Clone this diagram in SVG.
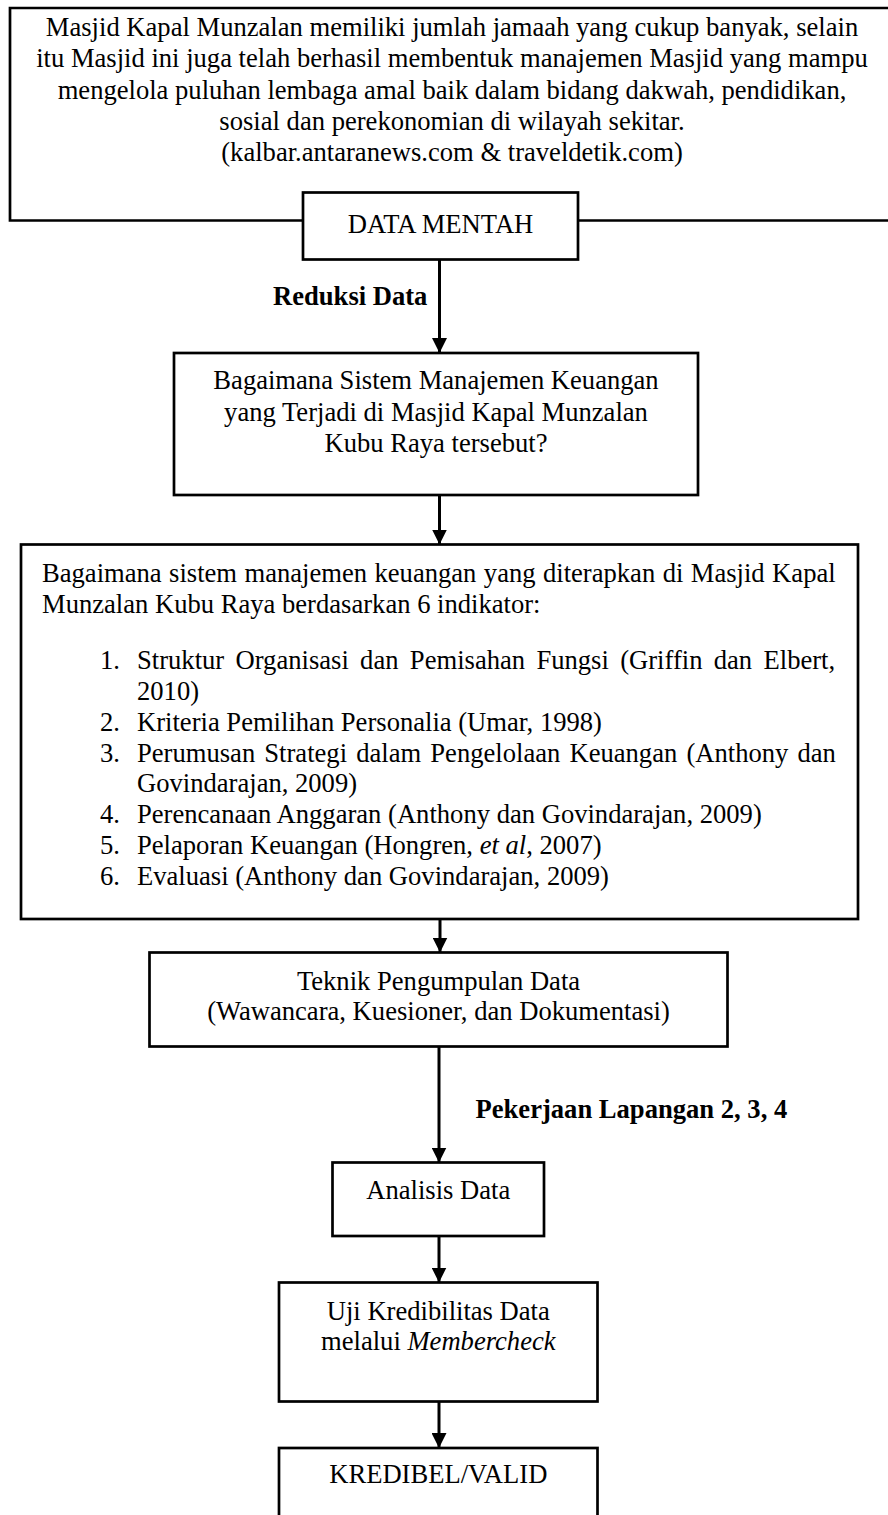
<svg xmlns="http://www.w3.org/2000/svg" width="888" height="1515" viewBox="0 0 888 1515">
<defs>
<style>
.t{font-family:"Liberation Serif","Times New Roman",serif;font-size:26.6px;fill:#000}
.c{text-anchor:middle}
.b{font-weight:bold}
.box{fill:#fff;stroke:#000;stroke-width:2.7}
.ln{fill:none;stroke:#000;stroke-width:2.7}
.ar{fill:none;stroke:#000;stroke-width:3}
</style>
<marker id="ah" markerUnits="userSpaceOnUse" markerWidth="16" markerHeight="15" refX="15" refY="7.5" orient="auto">
<path d="M0,0 L15,7.5 L0,15 z" fill="#000"/>
</marker>
</defs>
<rect width="888" height="1515" fill="#fff"/>

<g id="n-top">
<path class="ln" d="M900,8 H10 V220.5 H900"/>
<text class="t c" x="452" y="36">Masjid Kapal Munzalan memiliki jumlah jamaah yang cukup banyak, selain</text>
<text class="t c" x="452" y="67.2">itu Masjid ini juga telah berhasil membentuk manajemen Masjid yang mampu</text>
<text class="t c" x="452" y="98.5">mengelola puluhan lembaga amal baik dalam bidang dakwah, pendidikan,</text>
<text class="t c" x="452" y="129.8">sosial dan perekonomian di wilayah sekitar.</text>
<text class="t c" x="452" y="161">(kalbar.antaranews.com &amp; traveldetik.com)</text>
</g>

<g id="n-data-mentah">
<rect class="box" x="303" y="192.5" width="275" height="67"/>
<text class="t c" x="440.5" y="233">DATA MENTAH</text>
</g>

<g id="n-q1">
<rect class="box" x="174" y="353" width="524" height="142"/>
<text class="t c" x="436" y="389">Bagaimana Sistem Manajemen Keuangan</text>
<text class="t c" x="436" y="420.5">yang Terjadi di Masjid Kapal Munzalan</text>
<text class="t c" x="436" y="452">Kubu Raya tersebut?</text>
</g>

<g id="n-q2">
<rect class="box" x="21" y="544.5" width="837" height="374.5"/>
<text class="t" x="42" y="582" word-spacing="0.8">Bagaimana sistem manajemen keuangan yang diterapkan di Masjid Kapal</text>
<text class="t" x="42" y="613">Munzalan Kubu Raya berdasarkan 6 indikator:</text>
<text class="t" x="100" y="669">1.</text>
<text class="t" x="137" y="669" word-spacing="4.7">Struktur Organisasi dan Pemisahan Fungsi (Griffin dan Elbert,</text>
<text class="t" x="137" y="699.9">2010)</text>
<text class="t" x="100" y="730.7">2.</text>
<text class="t" x="137" y="730.7">Kriteria Pemilihan Personalia (Umar, 1998)</text>
<text class="t" x="100" y="761.6">3.</text>
<text class="t" x="137" y="761.6" word-spacing="2.5">Perumusan Strategi dalam Pengelolaan Keuangan (Anthony dan</text>
<text class="t" x="137" y="792.4">Govindarajan, 2009)</text>
<text class="t" x="100" y="823.3">4.</text>
<text class="t" x="137" y="823.3">Perencanaan Anggaran (Anthony dan Govindarajan, 2009)</text>
<text class="t" x="100" y="854.1">5.</text>
<text class="t" x="137" y="854.1">Pelaporan Keuangan (Hongren, <tspan font-style="italic">et al</tspan>, 2007)</text>
<text class="t" x="100" y="885">6.</text>
<text class="t" x="137" y="885">Evaluasi (Anthony dan Govindarajan, 2009)</text>
</g>

<g id="n-teknik">
<rect class="box" x="149.5" y="952.5" width="578" height="94"/>
<text class="t c" x="438.5" y="990">Teknik Pengumpulan Data</text>
<text class="t c" x="438.5" y="1020">(Wawancara, Kuesioner, dan Dokumentasi)</text>
</g>

<g id="n-analisis">
<rect class="box" x="332.5" y="1162.5" width="211.5" height="73.5"/>
<text class="t c" x="438.3" y="1199">Analisis Data</text>
</g>

<g id="n-uji">
<rect class="box" x="279" y="1282.5" width="318.5" height="119"/>
<text class="t c" x="438.3" y="1320">Uji Kredibilitas Data</text>
<text class="t c" x="438.3" y="1350">melalui <tspan font-style="italic">Membercheck</tspan></text>
</g>

<g id="n-kredibel">
<rect class="box" x="279" y="1448" width="318.5" height="90"/>
<text class="t c" x="438.3" y="1483">KREDIBEL/VALID</text>
</g>

<g id="connectors">
<line class="ar" x1="439.5" y1="259.5" x2="439.5" y2="353" marker-end="url(#ah)"/>
<text class="t b" x="273" y="305">Reduksi Data</text>
<line class="ar" x1="439.5" y1="495" x2="439.5" y2="544.5" marker-end="url(#ah)"/>
<line class="ar" x1="440" y1="919" x2="440" y2="952.5" marker-end="url(#ah)"/>
<line class="ar" x1="439" y1="1046.5" x2="439" y2="1162.5" marker-end="url(#ah)"/>
<text class="t b" x="475.5" y="1118">Pekerjaan Lapangan 2, 3, 4</text>
<line class="ar" x1="439" y1="1236" x2="439" y2="1282.5" marker-end="url(#ah)"/>
<line class="ar" x1="439" y1="1401.5" x2="439" y2="1448" marker-end="url(#ah)"/>
</g>
</svg>
